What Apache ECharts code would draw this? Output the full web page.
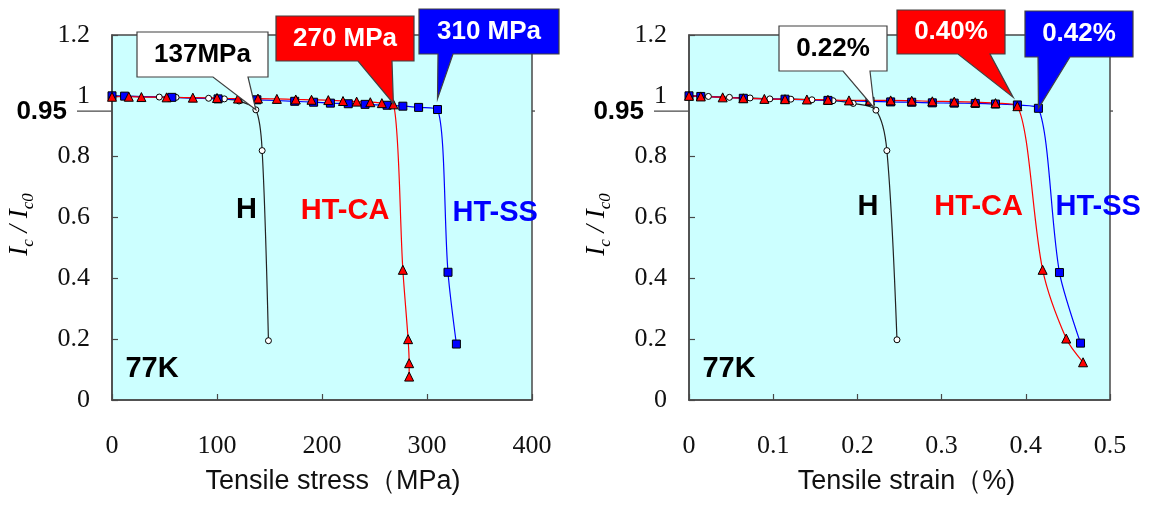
<!DOCTYPE html>
<html>
<head>
<meta charset="utf-8">
<script src="https://cdn.jsdelivr.net/npm/echarts@6/dist/echarts.min.js"></script>
<style>
html, body { margin: 0; padding: 0; background: #fff; }
#main { width: 1154px; height: 517px; }
</style>
</head>
<body>
<div id="main"></div>
<script>
// Ic/Ic0 vs tensile stress (MPa)
var hStress = [[0, 1.0], [11, 0.999], [45, 0.996], [61, 0.995], [92, 0.992], [107, 0.99], [121, 0.983], [137, 0.954], [143, 0.82], [149, 0.195]];
var caStress = [[0, 0.997], [16, 0.997], [28, 0.996], [52, 0.995], [77, 0.994], [100, 0.993], [120, 0.991], [139, 0.991], [157, 0.99], [175, 0.988], [190, 0.987], [206, 0.986], [220, 0.983], [233, 0.981], [246, 0.979], [257, 0.976], [268, 0.972], [277, 0.428], [282, 0.2], [283, 0.121], [283, 0.077]];
var ssStress = [[0, 1.0], [12, 0.999], [57, 0.995], [101, 0.99], [138, 0.987], [174, 0.982], [192, 0.979], [208, 0.976], [225, 0.974], [241, 0.972], [262, 0.969], [277, 0.966], [292, 0.962], [310, 0.955], [320, 0.42], [328, 0.184]];

// Ic/Ic0 vs tensile strain (%)
var hStrain = [[0, 1.0], [0.023, 0.998], [0.048, 0.995], [0.0725, 0.993], [0.096, 0.99], [0.121, 0.989], [0.146, 0.987], [0.171, 0.984], [0.195, 0.975], [0.222, 0.953], [0.235, 0.82], [0.247, 0.198]];
var caStrain = [[0, 1.0], [0.014, 0.998], [0.04, 0.995], [0.0645, 0.992], [0.0895, 0.99], [0.114, 0.989], [0.14, 0.988], [0.165, 0.987], [0.19, 0.985], [0.215, 0.985], [0.2395, 0.985], [0.2645, 0.984], [0.289, 0.982], [0.315, 0.981], [0.34, 0.979], [0.364, 0.976], [0.39, 0.966], [0.42, 0.428], [0.448, 0.202], [0.468, 0.124]];
var ssStrain = [[0, 1.0], [0.014, 0.998], [0.0645, 0.992], [0.114, 0.989], [0.165, 0.985], [0.215, 0.982], [0.2395, 0.98], [0.2645, 0.979], [0.289, 0.977], [0.315, 0.976], [0.34, 0.975], [0.364, 0.973], [0.39, 0.97], [0.415, 0.959], [0.44, 0.419], [0.465, 0.187]];

// callouts: text + where the pointer ends (data units)
var stressNotes = ['137MPa', '270 MPa', '310 MPa'];
var stressTips = [[137, 0.954], [268, 0.975], [310, 0.99]];
var strainNotes = ['0.22%', '0.40%', '0.42%'];
var strainTips = [[0.22, 0.96], [0.385, 0.995], [0.415, 0.959]];

var sampleNames = ['H', 'HT-CA', 'HT-SS'];
var stressNamePos = [[128, 0.625], [222, 0.62], [365, 0.615]];
var strainNamePos = [[0.2126, 0.635], [0.344, 0.635], [0.486, 0.635]];
var tempLabel = '77K';
var threshold = 0.95;

var chart = echarts.init(document.getElementById('main'));

var serif = '"Liberation Serif", "Times New Roman", serif';
var sans = '"Liberation Sans", Arial, sans-serif';
var frame = '#484848';

function yAx(gi) {
    return {
        type: 'value', gridIndex: gi, min: 0, max: 1.2, interval: 0.2,
        name: '{i|I}{s|c}{i| / I}{s|c0}',
        nameLocation: 'middle', nameGap: 75, nameRotate: 90,
        nameTextStyle: {
            padding: [0, 14, 0, 0],
            rich: {
                i: { fontFamily: serif, fontStyle: 'italic', fontSize: 27, lineHeight: 34, verticalAlign: 'middle', color: '#000' },
                s: { fontFamily: serif, fontStyle: 'italic', fontSize: 17, lineHeight: 14, verticalAlign: 'bottom', color: '#000' }
            }
        },
        axisLine: { show: true, lineStyle: { color: frame, width: 1.5 } },
        axisTick: { show: true, inside: true, length: 6, lineStyle: { color: frame, width: 1.2 } },
        axisLabel: { fontFamily: serif, fontSize: 26, color: '#111', margin: 22 },
        splitLine: { show: false }
    };
}

function xAx(gi, max, step, name, shift) {
    return {
        type: 'value', gridIndex: gi, min: 0, max: max, interval: step,
        name: name, nameLocation: 'middle', nameGap: 68,
        nameTextStyle: { fontFamily: sans, fontSize: 27, color: '#111', padding: [0, 0, 0, shift] },
        axisLine: { show: true, lineStyle: { color: frame, width: 1.5 } },
        axisTick: { show: true, inside: true, length: 6, lineStyle: { color: frame, width: 1.2 } },
        axisLabel: { fontFamily: serif, fontSize: 26, color: '#111', margin: 33 },
        splitLine: { show: false }
    };
}

function line(data, gi, color, symbol, size, fill) {
    return {
        type: 'line', xAxisIndex: gi, yAxisIndex: gi, data: data,
        smooth: 0.3, symbol: symbol, symbolSize: size, showSymbol: true,
        lineStyle: { color: color, width: 1.2 },
        itemStyle: { color: fill, borderColor: '#000', borderWidth: 1 },
        animation: false
    };
}

var option = {
    animation: false,
    grid: [
        { left: 112, top: 35, width: 420, height: 365, show: true, backgroundColor: '#CCFFFF', borderColor: frame, borderWidth: 1.5 },
        { left: 689, top: 35, width: 421, height: 365, show: true, backgroundColor: '#CCFFFF', borderColor: frame, borderWidth: 1.5 }
    ],
    xAxis: [xAx(0, 400, 100, 'Tensile stress（MPa)', 22), xAx(1, 0.5, 0.1, 'Tensile strain（%)', 14)],
    yAxis: [yAx(0), yAx(1)],
    series: [
        line(hStress, 0, '#222', 'circle', 6, '#fff'),
        line(ssStress, 0, '#0000FF', 'rect', 8, '#0000FF'),
        line(caStress, 0, '#FF0000', 'triangle', 9, '#FF0000'),
        line(hStrain, 1, '#222', 'circle', 6, '#fff'),
        line(ssStrain, 1, '#0000FF', 'rect', 8, '#0000FF'),
        line(caStrain, 1, '#FF0000', 'triangle', 9, '#FF0000')
    ]
};
chart.setOption(option);

// ---- annotations ----
var boxFill = ['#FFFFFF', '#FF0000', '#0000FF'];
var boxText = ['#000', '#FFFFFF', '#FFFFFF'];
var labelColor = ['#000', '#FF0000', '#0000FF'];
// callout boxes [x0, y0, x1, y1] and pointer base [xa, xb]
var stressBoxes = [[137, 32, 268, 77], [276, 16, 414, 61], [419, 9, 559, 54]];
var stressBase = [[213, 248], [358, 392], [438, 453]];
var strainBoxes = [[779, 26, 887, 71], [897, 10, 1005, 54], [1025, 11, 1133, 57]];
var strainBase = [[843, 870], [958, 990], [1038, 1070]];

function txt(x, y, s, font, color, align) {
    return {
        type: 'text', x: x, y: y, z: 101,
        style: { text: s, font: font, fill: color, align: align || 'center', verticalAlign: 'middle', textAlign: align || 'center', textVerticalAlign: 'middle' }
    };
}

function callout(tip, box, base, fill, color, s) {
    return [{
        type: 'polygon', z: 100,
        shape: { points: [[box[0], box[1]], [box[2], box[1]], [box[2], box[3]], [base[1], box[3]], tip, [base[0], box[3]], [box[0], box[3]]] },
        style: { fill: fill, stroke: '#404040', lineWidth: 1.2 }
    }, txt((box[0] + box[2]) / 2, (box[1] + box[3]) / 2, s, 'bold 26px ' + sans, color)];
}

var g = [];
function addPanel(gi, notes, tips, boxes, bases, namePos) {
    var finder = { gridIndex: gi };
    for (var i = 0; i < notes.length; i++) {
        var tp = chart.convertToPixel(finder, tips[i]);
        g = g.concat(callout(tp, boxes[i], bases[i], boxFill[i], boxText[i], notes[i]));
        var np = chart.convertToPixel(finder, namePos[i]);
        g.push(txt(np[0], np[1], sampleNames[i], 'bold 29px ' + sans, labelColor[i]));
    }
    var rect = chart.getModel().getComponent('grid', gi).coordinateSystem.getRect();
    var yk = chart.convertToPixel(finder, [0, threshold])[1];
    g.push({ type: 'line', z: 5, shape: { x1: rect.x - 35, y1: yk, x2: rect.x, y2: yk }, style: { stroke: frame, lineWidth: 1.3 } });
    g.push({ type: 'line', z: 5, shape: { x1: rect.x + rect.width, y1: yk, x2: rect.x + rect.width + 3, y2: yk }, style: { stroke: frame, lineWidth: 1.3 } });
    g.push(txt(rect.x - 45, yk + 1, '0.95', 'bold 26px ' + sans, '#000', 'right'));
    g.push(txt(rect.x + 40, rect.y + rect.height - 31, tempLabel, 'bold 29px ' + sans, '#000'));
}
addPanel(0, stressNotes, stressTips, stressBoxes, stressBase, stressNamePos);
addPanel(1, strainNotes, strainTips, strainBoxes, strainBase, strainNamePos);

chart.setOption({ graphic: g });
</script>
</body>
</html>
